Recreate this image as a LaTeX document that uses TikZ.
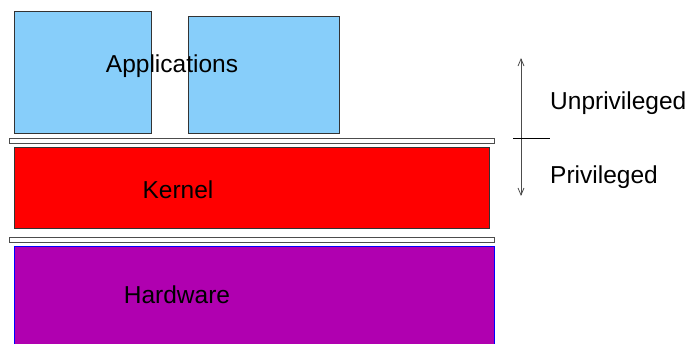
\documentclass[tikz,border=0pt]{standalone}
\usepackage{fontspec}
\setmainfont{Liberation Sans}
\usetikzlibrary{positioning, arrows.meta}
\definecolor{appblue}{HTML}{87CEFA}
\definecolor{kernelred}{HTML}{FF0000}
\definecolor{hwpurple}{HTML}{B000B0}
\tikzset{
	layerbox/.style={draw=#1, line width=0.9pt, rectangle, anchor=north west, inner sep=0pt}
}
\tikzset{
	sepbar/.style={draw=gray!60!black, fill=white, line width=1pt, rectangle, anchor=north west,
			inner sep=0pt, minimum width=485, minimum height=5}
}
\tikzset{
	layertext/.style={font=\fontsize{24.5}{29}\selectfont, inner sep=0pt}
}
\tikzset{
	modearrow/.style={gray!60!black, line width=0.8pt, {Straight Barb[length=7pt,width=6pt]}-{Straight Barb[length=7pt,width=6pt]}}
}

\begin{document}
\begin{tikzpicture}[x=1pt, y=-1pt]

			\useasboundingbox (0,0) rectangle (690,344);
			\clip (0,0) rectangle (690,344);

			\begin{scope}
				\node[layerbox=black!80, fill=appblue, minimum width=137, minimum height=122] (app1) at (14,11) {};
				\node[layerbox=black!80, fill=appblue, minimum width=151, minimum height=117] (app2) at (188,16) {};
				\node[layertext] (applabel) at (172,66) {Applications};
			\end{scope}

			\node[sepbar] (bar1) at (9,138) {};

			\begin{scope}
				\node[layerbox=black!80, fill=kernelred, minimum width=475, minimum height=81] (kernel) at (14,147) {};
				\node[layertext] (kernellabel) at (178,190) {Kernel};
			\end{scope}

			\node[sepbar] (bar2) at (9,237) {};

			\begin{scope}
				\node[layerbox=blue, fill=hwpurple, minimum width=480, minimum height=110] (hw) at (14,246) {};
				\node[layertext] (hwlabel) at (177,295) {Hardware};
			\end{scope}

			\begin{scope}
				\coordinate (modetop) at (521,58);
				\coordinate (modebot) at (521,196);
				\coordinate (tickl) at (513,138);
				\coordinate (tickr) at (550,138);

				\draw[modearrow] (modetop) -- (modebot);
				\draw[line width=0.8pt] (tickl) -- (tickr);

				\node[layertext, anchor=west] (unpriv) at (550,103) {Unprivileged};
				\node[layertext, anchor=west] (priv) at (550,177) {Privileged};
			\end{scope}

		\end{tikzpicture}
\end{document}
